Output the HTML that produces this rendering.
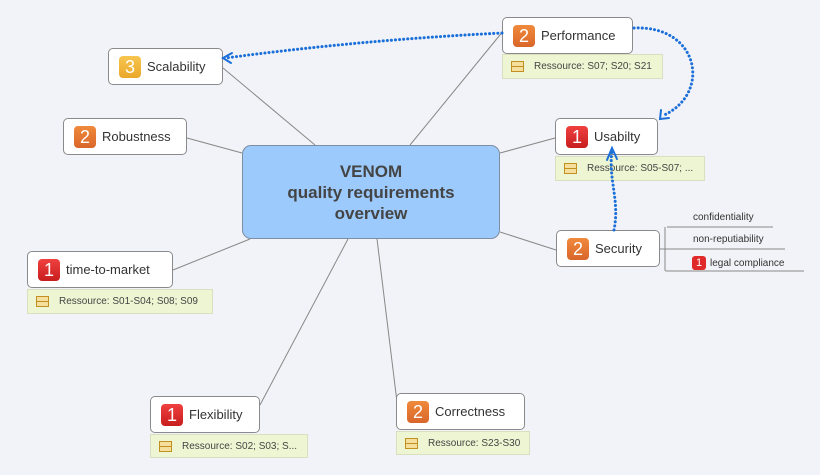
<html><head><style>
body{margin:0;width:820px;height:475px;background:#f2f3f8;position:relative;overflow:hidden;font-family:"Liberation Sans",sans-serif}
.n{position:absolute;box-sizing:border-box;background:#fff;border:1px solid #8a8a8a;border-radius:5px;font-size:13px;color:#333;display:flex;align-items:center;padding-left:10px}
.b{display:inline-block;width:22px;height:22px;border-radius:4px;color:#fff;font-size:18px;text-align:center;line-height:22px;margin-right:6px}
.o{background:linear-gradient(#f08a3c,#d9662a)}.r{background:linear-gradient(#f04040,#c81e1e)}.y{background:linear-gradient(#f7c650,#eaa82a)}
.res{position:absolute;box-sizing:border-box;background:#eef5d2;border:1px solid #d8e0c0;font-size:10px;color:#444;display:flex;align-items:center;padding-left:8px}
.ic{display:inline-block;width:11px;height:9px;border:1px solid #c09020;background:#f6df9c;margin-right:10px;position:relative}
.ic:after{content:"";position:absolute;left:0;right:0;top:4px;border-top:1px solid #c09020}
.t{position:absolute;font-size:10px;color:#333}
</style></head><body>
<svg width="820" height="475" style="position:absolute;left:0;top:0">
<g stroke="#888" stroke-width="1" fill="none">
<line x1="223" y1="68" x2="315" y2="145"/>
<line x1="504" y1="30" x2="410" y2="145"/>
<line x1="187" y1="138" x2="242" y2="153"/>
<line x1="555" y1="138" x2="500" y2="153"/>
<line x1="556" y1="250" x2="500" y2="232"/>
<line x1="173" y1="270" x2="250" y2="239"/>
<line x1="260" y1="405" x2="348" y2="239"/>
<line x1="397" y1="402" x2="377" y2="239"/>
<path d="M660 249 H665 M665 227 V270 Q665 271 667 271 H804 M667 227 H773 M665 249 H785"/>
</g>
</svg>
<div style="position:absolute;left:242px;top:145px;width:258px;height:94px;box-sizing:border-box;background:#9ccafc;border:1px solid #7d8ea3;border-radius:9px;color:#444;font-weight:bold;font-size:17px;text-align:center;display:flex;align-items:center;justify-content:center;line-height:21px">VENOM<br>quality requirements<br>overview</div>
<div class="n" style="left:502px;top:17px;width:131px;height:37px"><span class="b o">2</span>Performance</div>
<div class="res" style="left:502px;top:54px;width:161px;height:25px"><span class="ic"></span>Ressource: S07; S20; S21</div>
<div class="n" style="left:108px;top:48px;width:115px;height:37px"><span class="b y">3</span>Scalability</div>
<div class="n" style="left:63px;top:118px;width:124px;height:37px"><span class="b o">2</span>Robustness</div>
<div class="n" style="left:555px;top:118px;width:103px;height:37px"><span class="b r">1</span>Usabilty</div>
<div class="res" style="left:555px;top:156px;width:150px;height:25px"><span class="ic"></span>Ressource: S05-S07; ...</div>
<div class="n" style="left:556px;top:230px;width:104px;height:37px"><span class="b o">2</span>Security</div>
<div class="t" style="left:693px;top:212px">confidentiality</div>
<div class="t" style="left:693px;top:234px">non-reputiability</div>
<div class="t" style="left:692px;top:256px"><span style="display:inline-block;width:14px;height:14px;border-radius:3px;background:#e02a2a;color:#fff;text-align:center;line-height:14px;font-size:11px;margin-right:4px">1</span>legal compliance</div>
<div class="n" style="left:27px;top:251px;width:146px;height:37px"><span class="b r">1</span>time-to-market</div>
<div class="res" style="left:27px;top:289px;width:186px;height:25px"><span class="ic"></span>Ressource: S01-S04; S08; S09</div>
<div class="n" style="left:150px;top:396px;width:110px;height:37px"><span class="b r">1</span>Flexibility</div>
<div class="res" style="left:150px;top:434px;width:158px;height:24px"><span class="ic"></span>Ressource: S02; S03; S...</div>
<div class="n" style="left:396px;top:393px;width:129px;height:37px"><span class="b o">2</span>Correctness</div>
<div class="res" style="left:396px;top:431px;width:134px;height:24px"><span class="ic"></span>Ressource: S23-S30</div>
<svg width="820" height="475" style="position:absolute;left:0;top:0">
<g stroke="#1a6fd8" stroke-width="3" fill="none" stroke-dasharray="0.1 4" stroke-linecap="round">
<path d="M502 33 Q360 40 226 58"/>
<path d="M634 28 C700 25 712 95 662 116"/>
<path d="M614 230 C620 200 608 180 612 150"/>
</g>
<g stroke="#1a6fd8" stroke-width="2" fill="none" stroke-linecap="round">
<path d="M232 53 L223 58 L231 63"/>
<path d="M661 110 L660 119 L669 118"/>
<path d="M607 160 L612 148 L617 159"/>
</g>
</svg>
</body></html>
